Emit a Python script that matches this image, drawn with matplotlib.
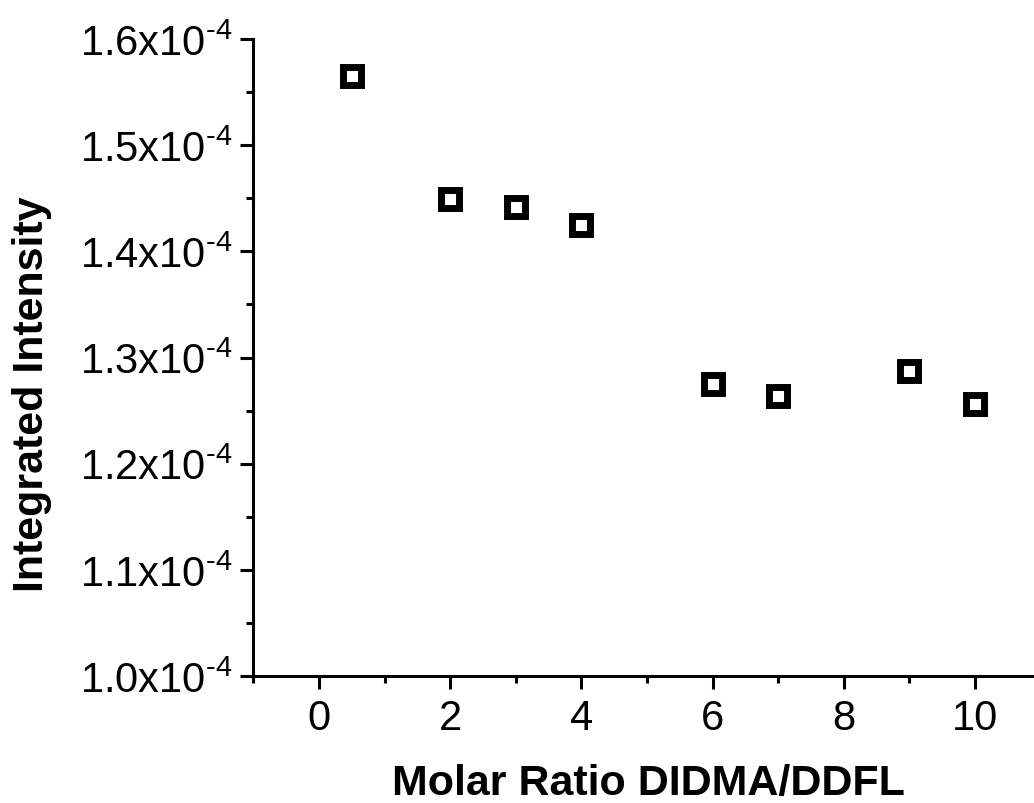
import numpy as np
import matplotlib
matplotlib.use('Agg')
import matplotlib.pyplot as plt
from matplotlib.ticker import MultipleLocator, FuncFormatter

plt.rcParams['font.family'] = ['Liberation Sans', 'DejaVu Sans']
plt.rcParams['mathtext.fontset'] = 'custom'
plt.rcParams['mathtext.rm'] = 'Liberation Sans'
plt.rcParams['mathtext.it'] = 'Liberation Sans'
plt.rcParams['axes.unicode_minus'] = False

# data
molar_ratio = [0.5, 2, 3, 4, 6, 7, 9, 10]
intensity = [1.565e-4, 1.449e-4, 1.442e-4, 1.425e-4, 1.275e-4, 1.264e-4, 1.287e-4, 1.256e-4]

W, H = 1034, 804
fig = plt.figure(figsize=(W / 100, H / 100), dpi=100)
# axes box in pixels: x from -1 (253.4px) to 11 (1040.6px), y from 1.0e-4 (677px) to 1.6e-4 (40px)
ax = fig.add_axes([253.4 / W, 1 - 677 / H, (1040.6 - 253.4) / W, (677 - 40) / H])

ax.plot(molar_ratio, intensity, linestyle='none', marker='s', markersize=12.5,
        markerfacecolor='white', markeredgecolor='black', markeredgewidth=5)

ax.set_xlim(-1, 11)
ax.set_ylim(1.0e-4, 1.6e-4)

for s in ['top', 'right']:
    ax.spines[s].set_visible(False)
for s in ['left', 'bottom']:
    ax.spines[s].set_linewidth(2.2)

ax.xaxis.set_major_locator(MultipleLocator(2))
ax.xaxis.set_minor_locator(MultipleLocator(1))
ax.yaxis.set_major_locator(MultipleLocator(0.1e-4))
ax.yaxis.set_minor_locator(MultipleLocator(0.05e-4))

def yfmt(v, pos):
    return r'%.1fx10$^{\text{-4}}$' % (v * 1e4)

ax.yaxis.set_major_formatter(FuncFormatter(yfmt))

ax.tick_params(which='major', direction='out', length=9.5, width=2.2, labelsize=30, pad=6)
ax.tick_params(which='minor', direction='out', length=5, width=2.2)

ax.set_xlabel('Molar Ratio DIDMA/DDFL', fontsize=31, fontweight='bold')
ax.set_ylabel('Integrated Intensity', fontsize=31, fontweight='bold')
ax.xaxis.label.set_va('baseline')
ax.xaxis.set_label_coords((648 - 253.4) / 787.2, -(795 - 677) / 637)
ax.yaxis.label.set_va('center')
ax.yaxis.set_label_coords((32 - 253.4) / 787.2, (677 - 394) / 637)

fig.savefig('out.png', dpi=100)
